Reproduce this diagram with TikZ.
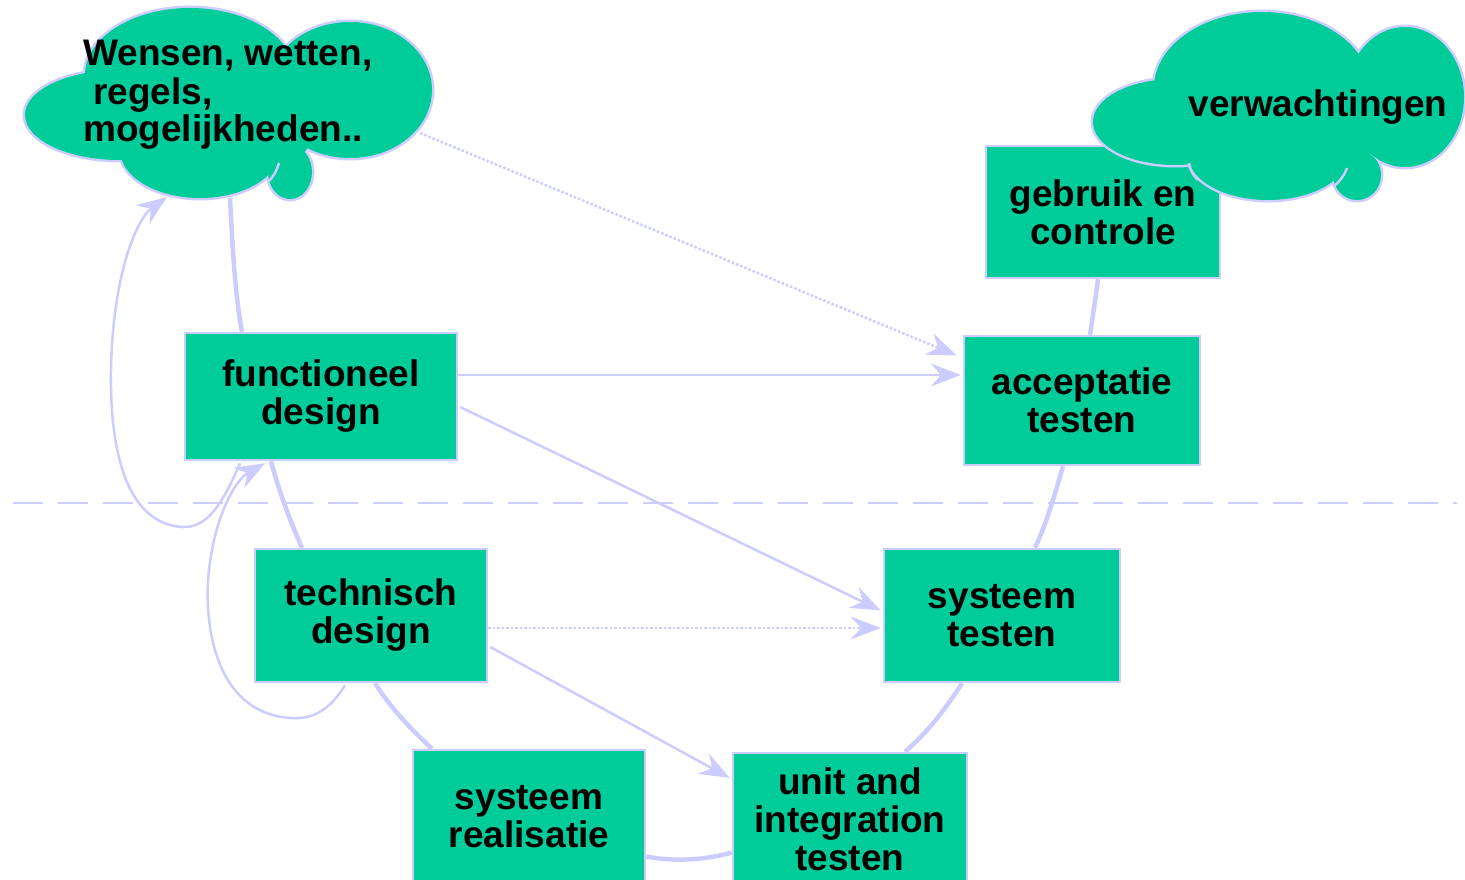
\documentclass[tikz,border=0pt]{standalone}
\usepackage{fontspec}
\setmainfont{Liberation Sans}
\usetikzlibrary{arrows.meta}
\definecolor{boxgreen}{HTML}{00CC99}
\definecolor{lav}{HTML}{CCCCFF}
\tikzset{
  stepbox/.style={draw=lav, line width=2.5pt, fill=boxgreen, align=center,
    font=\fontsize{37}{38}\selectfont\bfseries, inner sep=0pt},
  thickline/.style={draw=lav, line width=4.5pt},
  thinarrow/.style={draw=lav, line width=2.5pt, -{Stealth[length=30pt,width=23pt,inset=10pt]}},
  dotarrow/.style={thinarrow, dotted},
  cloudtext/.style={font=\fontsize{37}{38}\selectfont\bfseries, align=left, inner sep=0pt},
  innerarc/.style={draw=lav, line width=2.5pt},
}
\begin{document}
\begin{tikzpicture}[x=1pt,y=-1pt]
\useasboundingbox (0,0) rectangle (1465,880);
% dashed separator
\draw[lav, line width=2pt, dash pattern=on 30pt off 15pt] (13,503) -- (1457,503);

% nodes
\node[stepbox, minimum width=272pt, minimum height=127pt] (fd) at (321,396.5) {functioneel\\design};
\node[stepbox, minimum width=236pt, minimum height=129pt] (at) at (1082,400.5) {acceptatie\\testen};
\node[stepbox, minimum width=234pt, minimum height=132pt] (gc) at (1103,212) {gebruik en\\controle};
\node[stepbox, minimum width=232pt, minimum height=133pt] (td) at (371,615.5) {technisch\\design};
\node[stepbox, minimum width=236pt, minimum height=133pt] (st) at (1002,615.5) {systeem\\testen};
\node[stepbox, minimum width=232pt, minimum height=133pt] (sr) at (529,816.5) {systeem\\realisatie};
\node[stepbox, minimum width=234pt, minimum height=133pt] (ui) at (850,819.5) {unit and\\integration\\testen};

\coordinate (clA) at (230,198);
\coordinate (clAin) at (167,197);
\coordinate (clAout) at (420,133);

% thick connectors
\draw[thickline] (clA) .. controls (233,260) and (236,300) .. ([xshift=-79pt]fd.north);
\draw[thickline] ([xshift=-50pt]fd.south) .. controls (280,495) and (292,525) .. ([xshift=-69pt]td.north);
\draw[thickline] ([xshift=4pt]td.south) .. controls (392,710) and (412,730) .. ([xshift=-97pt]sr.north);
\draw[thickline] ([yshift=-40pt]sr.east) .. controls (675,862) and (705,860) .. ([yshift=-33pt]ui.west);
\draw[thickline] ([xshift=55pt]ui.north) .. controls (925,735) and (945,710) .. ([xshift=-40pt]st.south);
\draw[thickline] ([xshift=33pt]st.north) .. controls (1048,520) and (1056,490) .. ([xshift=-19pt]at.south);
\draw[thickline] ([xshift=8pt]at.north) .. controls (1093,315) and (1096,295) .. ([xshift=-5pt]gc.south);

% thin arrows
\draw[thinarrow] ([yshift=21.5pt]fd.east) -- ([yshift=25.5pt,xshift=-2pt]at.west);
\draw[dotarrow] (clAout) -- ([yshift=45pt,xshift=-6pt]at.west);
\draw[thinarrow] ([yshift=-10.5pt,xshift=2pt]fd.east) -- ([yshift=5pt,xshift=-2pt]st.west);
\draw[dotarrow] ([yshift=-12.5pt]td.east) -- ([yshift=-12.5pt,xshift=-2pt]st.west);
\draw[thinarrow] ([yshift=-31.5pt,xshift=2pt]td.east) -- ([yshift=41.5pt,xshift=-2pt]ui.west);
\draw[thinarrow] ([xshift=-81pt,yshift=-2pt]fd.south) .. controls (220,510) and (205,528) .. (182,527)
  .. controls (112,522) and (108,410) .. (112,345) .. controls (117,265) and (138,218) .. (clAin);
\draw[thinarrow] ([xshift=-26pt,yshift=-2pt]td.south) .. controls (330,710) and (312,720) .. (290,718)
  .. controls (222,713) and (205,640) .. (208,582) .. controls (212,520) and (235,480) .. ([xshift=-56pt,yshift=-2pt]fd.south);

% left cloud
\foreach \c/\rx/\ry in {(120,115)/95/45, (190,75)/105/67, (350,90)/82/68, (200,150)/80/48, (290,172)/22/27}{
  \filldraw[lav, line width=5pt] \c ellipse [x radius=\rx pt, y radius=\ry pt];
}
\foreach \c/\rx/\ry in {(120,115)/95/45, (190,75)/105/67, (350,90)/82/68, (200,150)/80/48, (290,172)/22/27}{
  \fill[boxgreen] \c ellipse [x radius=\rx pt, y radius=\ry pt];
}
\fill[boxgreen] (120,115) -- (190,75) -- (350,90) -- (290,172) -- (200,150) -- cycle;
\draw[innerarc] (279,163) .. controls (277,170) and (274,176) .. (268,182);
\node[cloudtext, anchor=west] (cl1) at (83,56) {Wensen, wetten,};
\node[cloudtext, anchor=west] (cl2) at (93,95) {regels,};
\node[cloudtext, anchor=west] (cl3) at (83,132) {mogelijkheden..};

% right cloud
\foreach \c/\rx/\ry in {(1175,122)/82/43, (1262,88)/108/76, (1405,97)/59/70, (1268,155)/80/45, (1357,175)/24/25}{
  \filldraw[lav, line width=5pt] \c ellipse [x radius=\rx pt, y radius=\ry pt];
}
\foreach \c/\rx/\ry in {(1175,122)/82/43, (1262,88)/108/76, (1405,97)/59/70, (1268,155)/80/45, (1357,175)/24/25}{
  \fill[boxgreen] \c ellipse [x radius=\rx pt, y radius=\ry pt];
}
\fill[boxgreen] (1175,122) -- (1262,88) -- (1405,97) -- (1357,175) -- (1268,155) -- cycle;
\draw[innerarc] (1347,168) .. controls (1344,176) and (1340,181) .. (1334,186);
\draw[innerarc] (1189,163) .. controls (1190,170) and (1193,175) .. (1198,180);
\node[cloudtext] (cr) at (1318,107) {verwachtingen};
\end{tikzpicture}
\end{document}
